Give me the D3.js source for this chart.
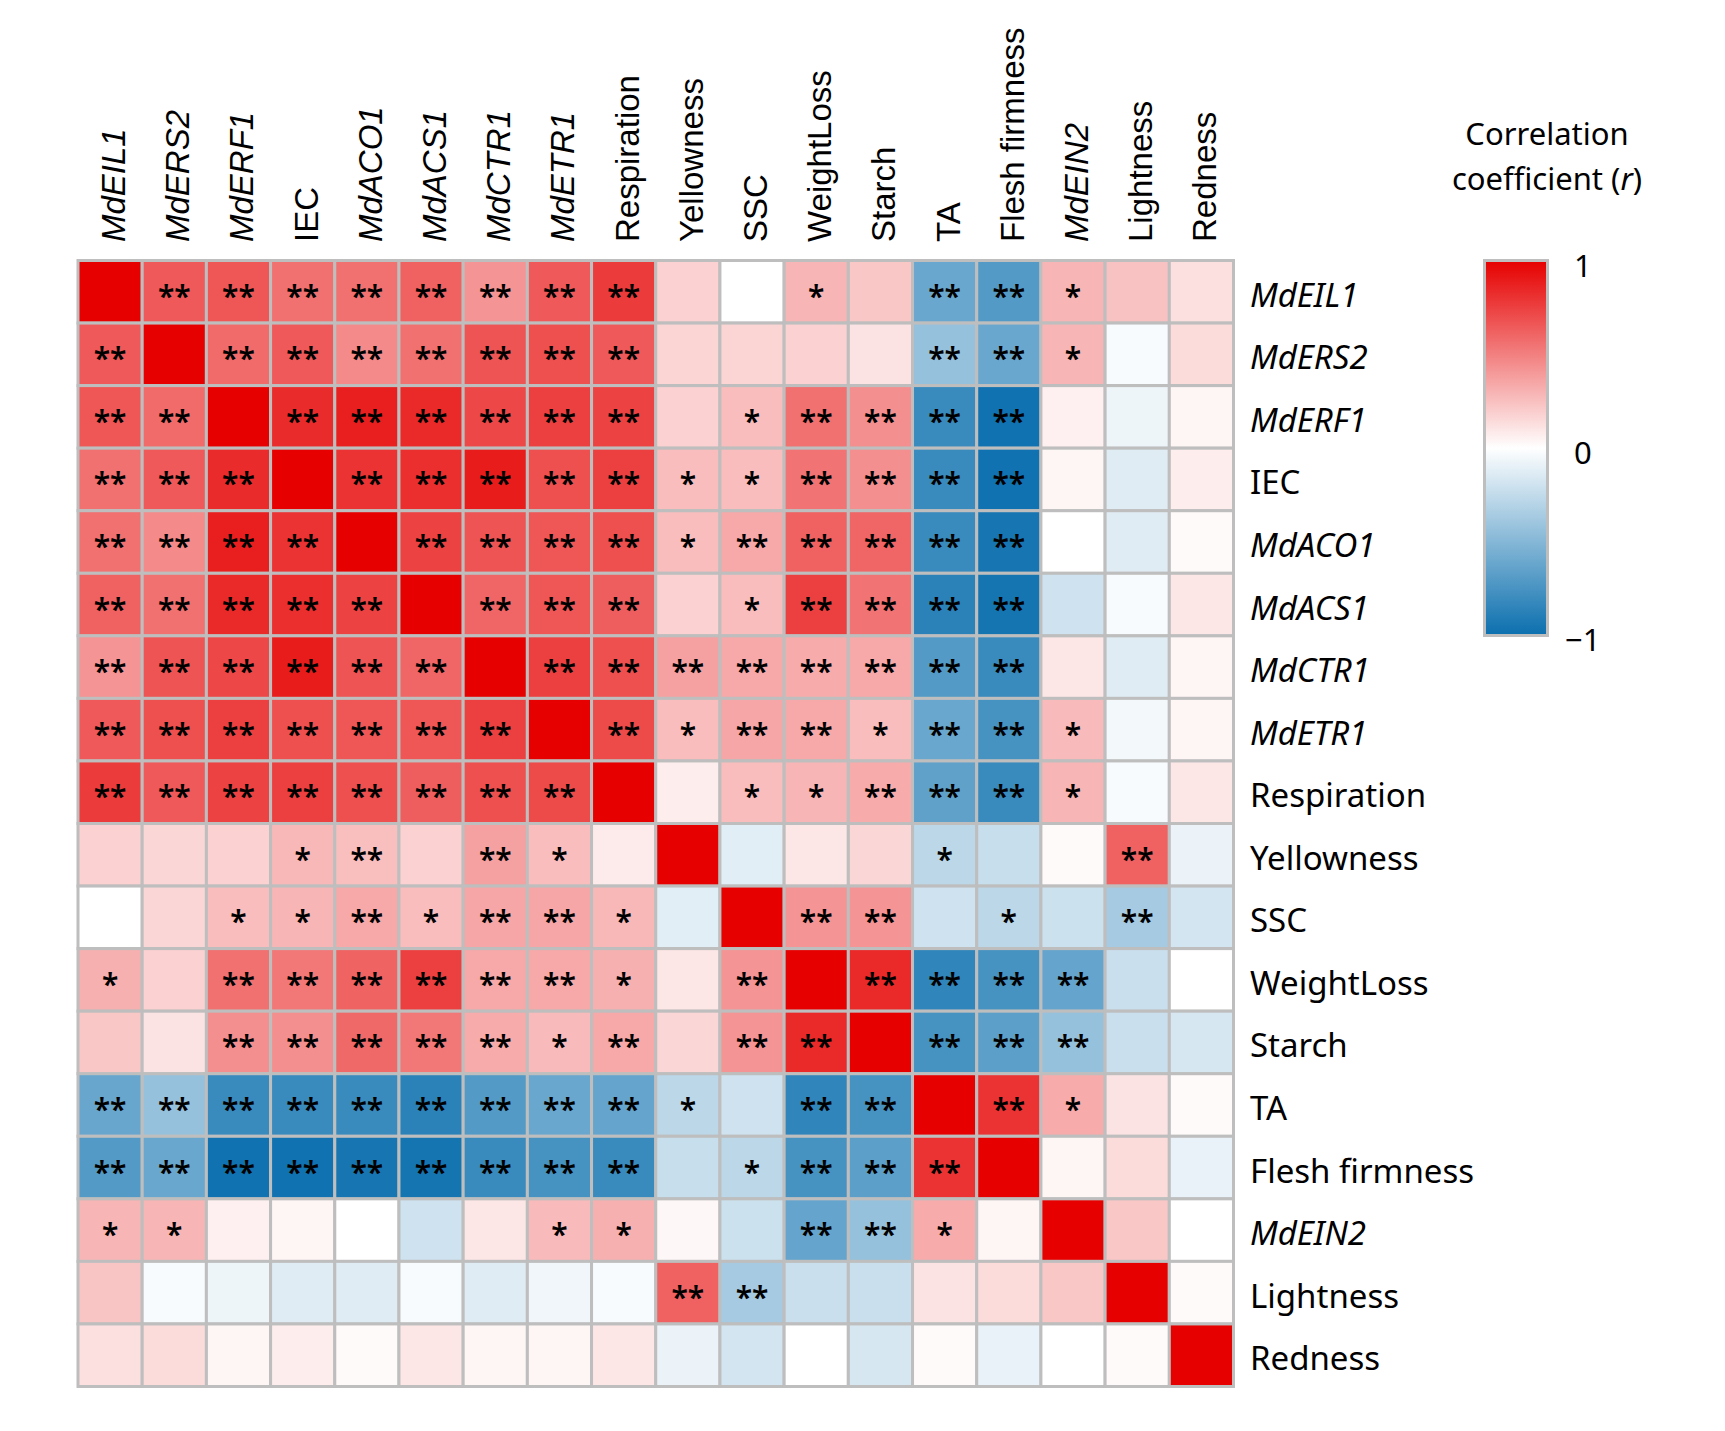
<!DOCTYPE html>
<html>
<head>
<meta charset="utf-8">
<script src="https://cdn.jsdelivr.net/npm/d3@7"></script>
<style>
  body { margin: 0; background: #fff; }
</style>
</head>
<body>
<script>
// data
var variables = ['MdEIL1', 'MdERS2', 'MdERF1', 'IEC', 'MdACO1', 'MdACS1', 'MdCTR1', 'MdETR1',
  'Respiration', 'Yellowness', 'SSC', 'WeightLoss', 'Starch', 'TA', 'Flesh firmness',
  'MdEIN2', 'Lightness', 'Redness'];

// gene names are set in italics
var geneNames = ['MdEIL1', 'MdERS2', 'MdERF1', 'MdACO1', 'MdACS1', 'MdCTR1', 'MdETR1', 'MdEIN2'];

// correlation coefficients, row by row
var corrValues = [
  [1, .65, .66, .56, .56, .62, .42, .65, .77, .18, 0, .29, .22, -.61, -.70, .29, .24, .12],
  [.65, 1, .58, .65, .46, .56, .67, .69, .65, .17, .17, .18, .11, -.43, -.61, .29, -.03, .14],
  [.66, .58, 1, .83, .88, .84, .72, .75, .74, .18, .26, .56, .44, -.81, -.98, .06, -.07, .04],
  [.56, .65, .83, 1, .80, .82, .89, .69, .75, .26, .26, .55, .44, -.81, -.98, .04, -.13, .07],
  [.56, .46, .88, .80, 1, .74, .67, .66, .69, .26, .34, .62, .60, -.81, -.95, 0, -.13, .02],
  [.62, .56, .84, .82, .74, 1, .60, .66, .63, .18, .26, .75, .55, -.87, -.96, -.20, -.03, .10],
  [.42, .67, .72, .89, .67, .60, 1, .75, .69, .37, .34, .33, .34, -.70, -.81, .10, -.13, .04],
  [.65, .69, .75, .69, .66, .66, .75, 1, .71, .26, .35, .34, .26, -.61, -.76, .27, -.05, .04],
  [.77, .65, .74, .75, .69, .63, .69, .71, 1, .07, .26, .29, .33, -.65, -.81, .29, -.03, .10],
  [.18, .16, .18, .28, .25, .18, .37, .26, .08, 1, -.12, .10, .16, -.28, -.23, .02, .62, -.08],
  [0, .16, .26, .29, .34, .26, .35, .35, .28, -.12, 1, .42, .42, -.20, -.28, -.21, -.37, -.18],
  [.31, .18, .56, .53, .61, .75, .34, .34, .31, .10, .42, 1, .84, -.85, -.76, -.63, -.22, 0],
  [.22, .11, .44, .44, .59, .53, .33, .27, .34, .16, .42, .84, 1, -.76, -.67, -.43, -.22, -.17],
  [-.62, -.43, -.81, -.81, -.81, -.87, -.70, -.61, -.63, -.28, -.20, -.85, -.76, 1, .80, .33, .11, .02],
  [-.70, -.61, -.98, -.98, -.95, -.96, -.81, -.76, -.81, -.23, -.28, -.76, -.67, .80, 1, .04, .14, -.09],
  [.29, .29, .06, .04, 0, -.20, .10, .27, .31, .03, -.21, -.63, -.43, .33, .04, 1, .22, 0],
  [.23, -.03, -.07, -.13, -.13, -.03, -.13, -.06, -.03, .62, -.37, -.22, -.22, .11, .14, .22, 1, .02],
  [.12, .14, .04, .07, .02, .10, .04, .04, .10, -.08, -.18, 0, -.17, .02, -.09, 0, .02, 1]
];

// significance marks, same layout as corrValues
var sigStars = [
  ['', '**', '**', '**', '**', '**', '**', '**', '**', '', '', '*', '', '**', '**', '*', '', ''],
  ['**', '', '**', '**', '**', '**', '**', '**', '**', '', '', '', '', '**', '**', '*', '', ''],
  ['**', '**', '', '**', '**', '**', '**', '**', '**', '', '*', '**', '**', '**', '**', '', '', ''],
  ['**', '**', '**', '', '**', '**', '**', '**', '**', '*', '*', '**', '**', '**', '**', '', '', ''],
  ['**', '**', '**', '**', '', '**', '**', '**', '**', '*', '**', '**', '**', '**', '**', '', '', ''],
  ['**', '**', '**', '**', '**', '', '**', '**', '**', '', '*', '**', '**', '**', '**', '', '', ''],
  ['**', '**', '**', '**', '**', '**', '', '**', '**', '**', '**', '**', '**', '**', '**', '', '', ''],
  ['**', '**', '**', '**', '**', '**', '**', '', '**', '*', '**', '**', '*', '**', '**', '*', '', ''],
  ['**', '**', '**', '**', '**', '**', '**', '**', '', '', '*', '*', '**', '**', '**', '*', '', ''],
  ['', '', '', '*', '**', '', '**', '*', '', '', '', '', '', '*', '', '', '**', ''],
  ['', '', '*', '*', '**', '*', '**', '**', '*', '', '', '**', '**', '', '*', '', '**', ''],
  ['*', '', '**', '**', '**', '**', '**', '**', '*', '', '**', '', '**', '**', '**', '**', '', ''],
  ['', '', '**', '**', '**', '**', '**', '*', '**', '', '**', '**', '', '**', '**', '**', '', ''],
  ['**', '**', '**', '**', '**', '**', '**', '**', '**', '*', '', '**', '**', '', '**', '*', '', ''],
  ['**', '**', '**', '**', '**', '**', '**', '**', '**', '', '*', '**', '**', '**', '', '', '', ''],
  ['*', '*', '', '', '', '', '', '*', '*', '', '', '**', '**', '*', '', '', '', ''],
  ['', '', '', '', '', '', '', '', '', '**', '**', '', '', '', '', '', '', ''],
  ['', '', '', '', '', '', '', '', '', '', '', '', '', '', '', '', '', '']
];

var legendTicks = [1, 0, -1];

// ----------------------------------------------------------------------------
// setup
var width = 1725;
var height = 1431;
var gridColor = '#bebebe';
var labelFont = '"Liberation Sans", Arial, sans-serif';
var textFont = '"Noto Sans", "Liberation Sans", sans-serif';

var svg = d3.select( 'body' ).append( 'svg' )
  .attr( 'width', width )
  .attr( 'height', height )
  .style( 'font-family', textFont );

var x = d3.scaleBand()
  .domain( variables )
  .range( [78, 1233.5] );

var y = d3.scaleBand()
  .domain( variables )
  .range( [260.5, 1386.5] );

var colour = d3.scaleLinear()
  .domain( [-1, 0, 1] )
  .range( ['#0b6fae', '#ffffff', '#e60000'] );

function isGene( name ) {
  return geneNames.indexOf( name ) >= 0;
}

// ----------------------------------------------------------------------------
// cells
var cells = [];
variables.forEach( function ( rowName, i ) {
  variables.forEach( function ( colName, j ) {
    cells.push( {
      row: rowName,
      col: colName,
      value: corrValues[i][j],
      stars: sigStars[i][j]
    } );
  } );
} );

svg.append( 'g' ).selectAll( 'rect' )
  .data( cells )
  .enter()
  .append( 'rect' )
  .attr( 'x', function ( d ) { return x( d.col ); } )
  .attr( 'y', function ( d ) { return y( d.row ); } )
  .attr( 'width', x.bandwidth() )
  .attr( 'height', y.bandwidth() )
  .style( 'fill', function ( d ) { return colour( d.value ); } )
  .style( 'stroke', gridColor )
  .style( 'stroke-width', 3 );

svg.append( 'g' ).selectAll( 'text' )
  .data( cells.filter( function ( d ) { return d.stars !== ''; } ) )
  .enter()
  .append( 'text' )
  .attr( 'x', function ( d ) { return x( d.col ) + x.bandwidth() / 2; } )
  .attr( 'y', function ( d ) { return y( d.row ) + y.bandwidth() / 2 + 15; } )
  .attr( 'text-anchor', 'middle' )
  .style( 'font-size', '30px' )
  .style( 'font-weight', 600 )
  .style( 'fill', '#000' )
  .text( function ( d ) { return d.stars; } );

// ----------------------------------------------------------------------------
// labels
svg.append( 'g' ).selectAll( 'text' )
  .data( variables )
  .enter()
  .append( 'text' )
  .attr( 'transform', function ( d ) {
    return 'translate(' + ( x( d ) + x.bandwidth() / 2 + 15 ) + ',242) rotate(-90)';
  } )
  .style( 'font-family', labelFont )
  .style( 'font-size', '33px' )
  .style( 'font-style', function ( d ) { return isGene( d ) ? 'italic' : 'normal'; } )
  .text( function ( d ) { return d; } );

svg.append( 'g' ).selectAll( 'text' )
  .data( variables )
  .enter()
  .append( 'text' )
  .attr( 'x', 1250 )
  .attr( 'y', function ( d ) { return y( d ) + y.bandwidth() / 2 + 15; } )
  .style( 'font-size', '33px' )
  .style( 'font-style', function ( d ) { return isGene( d ) ? 'italic' : 'normal'; } )
  .text( function ( d ) { return d; } );

// ----------------------------------------------------------------------------
// legend
var legendY = d3.scaleLinear()
  .domain( [1, -1] )
  .range( [266, 640] );

var grad = svg.append( 'defs' ).append( 'linearGradient' )
  .attr( 'id', 'corrGrad' )
  .attr( 'x1', 0 ).attr( 'y1', 0 )
  .attr( 'x2', 0 ).attr( 'y2', 1 );

grad.selectAll( 'stop' )
  .data( legendTicks )
  .enter()
  .append( 'stop' )
  .attr( 'offset', function ( d ) { return ( 1 - d ) / 2; } )
  .attr( 'stop-color', function ( d ) { return colour( d ); } );

svg.append( 'rect' )
  .attr( 'x', 1484.5 )
  .attr( 'y', 260.5 )
  .attr( 'width', 63 )
  .attr( 'height', 375 )
  .style( 'fill', 'url(#corrGrad)' )
  .style( 'stroke', gridColor )
  .style( 'stroke-width', 3 );

svg.append( 'g' ).selectAll( 'text' )
  .data( legendTicks )
  .enter()
  .append( 'text' )
  .attr( 'x', function ( d ) { return d < 0 ? 1565 : 1574; } )
  .attr( 'y', function ( d ) { return legendY( d ); } )
  .attr( 'dy', '0.35em' )
  .style( 'font-size', '31px' )
  .text( function ( d ) { return d < 0 ? '\u2212' + Math.abs( d ) : d; } );

var title = svg.append( 'text' )
  .attr( 'x', 1547 )
  .attr( 'text-anchor', 'middle' )
  .style( 'font-size', '31px' );

title.append( 'tspan' )
  .attr( 'x', 1547 )
  .attr( 'y', 145 )
  .text( 'Correlation' );

var line2 = title.append( 'tspan' )
  .attr( 'x', 1547 )
  .attr( 'y', 190 );
line2.append( 'tspan' ).text( 'coefficient (' );
line2.append( 'tspan' ).style( 'font-style', 'italic' ).text( 'r' );
line2.append( 'tspan' ).text( ')' );
</script>
</body>
</html>
